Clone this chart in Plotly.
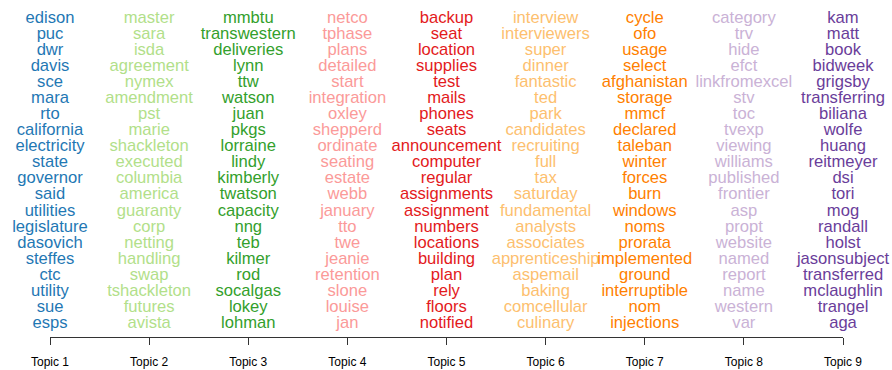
import plotly.graph_objects as go

topics = ["Topic 1", "Topic 2", "Topic 3", "Topic 4", "Topic 5", "Topic 6", "Topic 7", "Topic 8", "Topic 9"]
colors = ["#1f78b4", "#b2df8a", "#33a02c", "#fb9a99", "#e31a1c", "#fdbf6f", "#ff7f00", "#cab2d6", "#6a3d9a"]

topic1 = ["edison", "puc", "dwr", "davis", "sce", "mara", "rto", "california", "electricity", "state",
          "governor", "said", "utilities", "legislature", "dasovich", "steffes", "ctc", "utility", "sue", "esps"]
topic2 = ["master", "sara", "isda", "agreement", "nymex", "amendment", "pst", "marie", "shackleton", "executed",
          "columbia", "america", "guaranty", "corp", "netting", "handling", "swap", "tshackleton", "futures", "avista"]
topic3 = ["mmbtu", "transwestern", "deliveries", "lynn", "ttw", "watson", "juan", "pkgs", "lorraine", "lindy",
          "kimberly", "twatson", "capacity", "nng", "teb", "kilmer", "rod", "socalgas", "lokey", "lohman"]
topic4 = ["netco", "tphase", "plans", "detailed", "start", "integration", "oxley", "shepperd", "ordinate", "seating",
          "estate", "webb", "january", "tto", "twe", "jeanie", "retention", "slone", "louise", "jan"]
topic5 = ["backup", "seat", "location", "supplies", "test", "mails", "phones", "seats", "announcement", "computer",
          "regular", "assignments", "assignment", "numbers", "locations", "building", "plan", "rely", "floors", "notified"]
topic6 = ["interview", "interviewers", "super", "dinner", "fantastic", "ted", "park", "candidates", "recruiting", "full",
          "tax", "saturday", "fundamental", "analysts", "associates", "apprenticeship", "aspemail", "baking", "comcellular", "culinary"]
topic7 = ["cycle", "ofo", "usage", "select", "afghanistan", "storage", "mmcf", "declared", "taleban", "winter",
          "forces", "burn", "windows", "noms", "prorata", "implemented", "ground", "interruptible", "nom", "injections"]
topic8 = ["category", "trv", "hide", "efct", "linkfromexcel", "stv", "toc", "tvexp", "viewing", "williams",
          "published", "frontier", "asp", "propt", "website", "named", "report", "name", "western", "var"]
topic9 = ["kam", "matt", "book", "bidweek", "grigsby", "transferring", "biliana", "wolfe", "huang", "reitmeyer",
          "dsi", "tori", "mog", "randall", "holst", "jasonsubject", "transferred", "mclaughlin", "trangel", "aga"]

words = [topic1, topic2, topic3, topic4, topic5, topic6, topic7, topic8, topic9]
ranks = list(range(1, 21))

FONT = "Liberation Sans, Arial, Helvetica, sans-serif"

fig = go.Figure()
for i, (t, w) in enumerate(zip(topics, words)):
    fig.add_trace(go.Scatter(
        x=[t] * len(w), y=ranks[:len(w)], text=w, mode="text",
        textposition="middle center",
        textfont=dict(family=FONT, size=16.6, color=colors[i]),
        cliponaxis=False, showlegend=False, hoverinfo="text"))

fig.update_layout(
    width=892, height=370,
    margin=dict(l=50, r=49, t=0, b=33, autoexpand=False),
    paper_bgcolor="white", plot_bgcolor="white",
    xaxis=dict(type="category", categoryorder="array", categoryarray=topics,
               range=[0, 8], showgrid=False, zeroline=False, automargin=False,
               showline=True, linecolor="#333", linewidth=1,
               ticks="outside", ticklen=7, tickcolor="#333",
               ticklabelstandoff=7,
               tickfont=dict(family=FONT, size=12, color="black")),
    yaxis=dict(range=[20.81, -0.15], visible=False, showgrid=False, zeroline=False),
)

fig.write_html("out.html",
               config={"displayModeBar": False},
               post_script="document.body.style.margin='0';document.body.style.overflow='hidden';")
